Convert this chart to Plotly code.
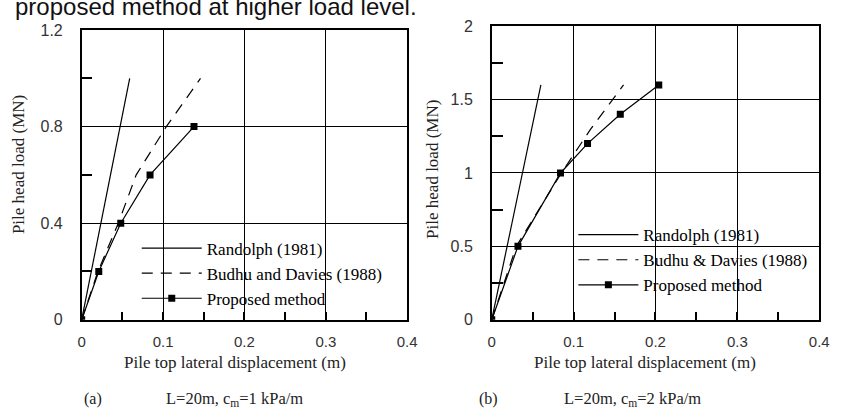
import plotly.graph_objects as go

# ---- data ----
# (a) L=20m, cm=1 kPa/m
a_rand_x = [0.0, 0.059]
a_rand_y = [0.0, 1.0]
a_budhu_x = [0.0, 0.02, 0.045, 0.067, 0.104, 0.146]
a_budhu_y = [0.0, 0.2, 0.4, 0.6, 0.8, 1.0]
a_prop_x = [0.0, 0.021, 0.048, 0.084, 0.138]
a_prop_y = [0.0, 0.2, 0.4, 0.6, 0.8]
# (b) L=20m, cm=2 kPa/m
b_rand_x = [0.0, 0.060]
b_rand_y = [0.0, 1.6]
b_budhu_x = [0.0, 0.03, 0.085, 0.121, 0.161]
b_budhu_y = [0.0, 0.5, 1.0, 1.3, 1.6]
b_prop_x = [0.0, 0.032, 0.084, 0.117, 0.157, 0.204]
b_prop_y = [0.0, 0.5, 1.0, 1.2, 1.4, 1.6]

# x axis: tick marks every 0.05, labels every 0.1
x_tick_vals = [0.0, 0.05, 0.1, 0.15, 0.2, 0.25, 0.3, 0.35, 0.4]
x_tick_text = ["0", "", "0.1", "", "0.2", "", "0.3", "", "0.4"]
x_grid_vals = [0.1, 0.2, 0.3]
a_y_minor_ticks = [0.2, 0.6, 1.0]
b_y_minor_ticks = [0.25, 0.75, 1.25, 1.75]

a_names = ["Randolph (1981)", "Budhu and Davies (1988)", "Proposed method"]
b_names = ["Randolph (1981)", "Budhu &amp; Davies (1988)", "Proposed method"]

W, H = 842, 416
SERIF = "Liberation Serif"
SANS = "Liberation Sans"

fig = go.Figure()

def add_set(xs, ys, names, xa, ya, leg):
    fig.add_trace(go.Scatter(x=xs[0], y=ys[0], mode="lines", name=names[0],
                             line=dict(color="black", width=1.2),
                             xaxis=xa, yaxis=ya, legend=leg))
    fig.add_trace(go.Scatter(x=xs[1], y=ys[1], mode="lines", name=names[1],
                             line=dict(color="black", width=1.2, dash="11px,8px"),
                             xaxis=xa, yaxis=ya, legend=leg))
    fig.add_trace(go.Scatter(x=xs[2], y=ys[2], mode="lines+markers", name=names[2],
                             line=dict(color="black", width=1.2),
                             marker=dict(symbol="square", size=7, color="black"),
                             xaxis=xa, yaxis=ya, legend=leg))

add_set([a_rand_x, a_budhu_x, a_prop_x], [a_rand_y, a_budhu_y, a_prop_y], a_names, "x", "y", "legend")
add_set([b_rand_x, b_budhu_x, b_prop_x], [b_rand_y, b_budhu_y, b_prop_y], b_names, "x2", "y2", "legend2")

def px_x(p):
    return p / W

def px_y(p):
    return 1 - p / H

common_x = dict(range=[0, 0.4], tickmode="array", tickvals=x_tick_vals, ticktext=x_tick_text,
                ticks="inside", ticklen=8, tickwidth=1.5, tickcolor="black",
                showgrid=False,
                showline=True, linecolor="black", linewidth=1.5, mirror=True,
                zeroline=False, ticklabelstandoff=8,
                tickfont=dict(family=SANS, size=15, color="#333"),
                minor=dict(tickmode="array", tickvals=x_grid_vals, showgrid=True,
                           gridcolor="black", gridwidth=1, ticks=""))
common_y = dict(showgrid=True, gridcolor="black", gridwidth=1,
                showline=True, linecolor="black", linewidth=1.5, mirror=True,
                ticks="", zeroline=False, ticklabelstandoff=14,
                tickfont=dict(family=SANS, size=16, color="#333"))

fig.update_layout(
    width=W, height=H,
    margin=dict(l=0, r=0, t=0, b=0),
    paper_bgcolor="white", plot_bgcolor="white",
    xaxis=dict(domain=[px_x(79), px_x(410)], anchor="y", **common_x),
    yaxis=dict(domain=[px_y(325), px_y(23)], anchor="x", range=[0, 1.2], dtick=0.4,
               minor=dict(tickmode="array", tickvals=a_y_minor_ticks, ticks="inside",
                          ticklen=11, tickwidth=1.5, tickcolor="black", showgrid=False),
               **common_y),
    xaxis2=dict(domain=[px_x(496), px_x(829)], anchor="y2", **common_x),
    yaxis2=dict(domain=[px_y(325), px_y(19)], anchor="x2", range=[0, 2], dtick=0.5,
                minor=dict(tickmode="array", tickvals=b_y_minor_ticks, ticks="inside",
                           ticklen=11, tickwidth=1.5, tickcolor="black", showgrid=False),
                **common_y),
    legend=dict(x=px_x(135), y=px_y(232), xanchor="left", yanchor="top",
                bgcolor="rgba(0,0,0,0)", font=dict(family=SERIF, size=17, color="black"),
                itemwidth=60, tracegroupgap=0),
    legend2=dict(x=px_x(579), y=px_y(218), xanchor="left", yanchor="top",
                 bgcolor="rgba(0,0,0,0)", font=dict(family=SERIF, size=17, color="black"),
                 itemwidth=60, tracegroupgap=0),
)

ann = []
def A(x, y, text, size=14, family=SERIF, angle=0, xanchor="center", yanchor="middle", color="#222"):
    ann.append(dict(x=px_x(x), y=px_y(y), xref="paper", yref="paper", text=text,
                    showarrow=False, textangle=angle, xanchor=xanchor, yanchor=yanchor,
                    font=dict(family=family, size=size, color=color)))

A(15, 163, "Pile head load (MN)", size=17, angle=-90)
A(435, 168, "Pile head load (MN)", size=17, angle=-90)
A(235, 370, "Pile top lateral displacement (m)", size=17)
A(652, 370, "Pile top lateral displacement (m)", size=17)
A(90, 408, "(a)", size=16)
A(163, 408, "L=20m, c<sub>m</sub>=1 kPa/m", size=16.5, xanchor="left")
A(493, 408, "(b)", size=16)
A(567, 408, "L=20m, c<sub>m</sub>=2 kPa/m", size=16.5, xanchor="left")
A(9, 15, "proposed method at higher load level.", size=24, family=SANS,
  xanchor="left", yanchor="bottom", color="#111")
fig.update_layout(annotations=ann)

fig.write_html("out.html")
